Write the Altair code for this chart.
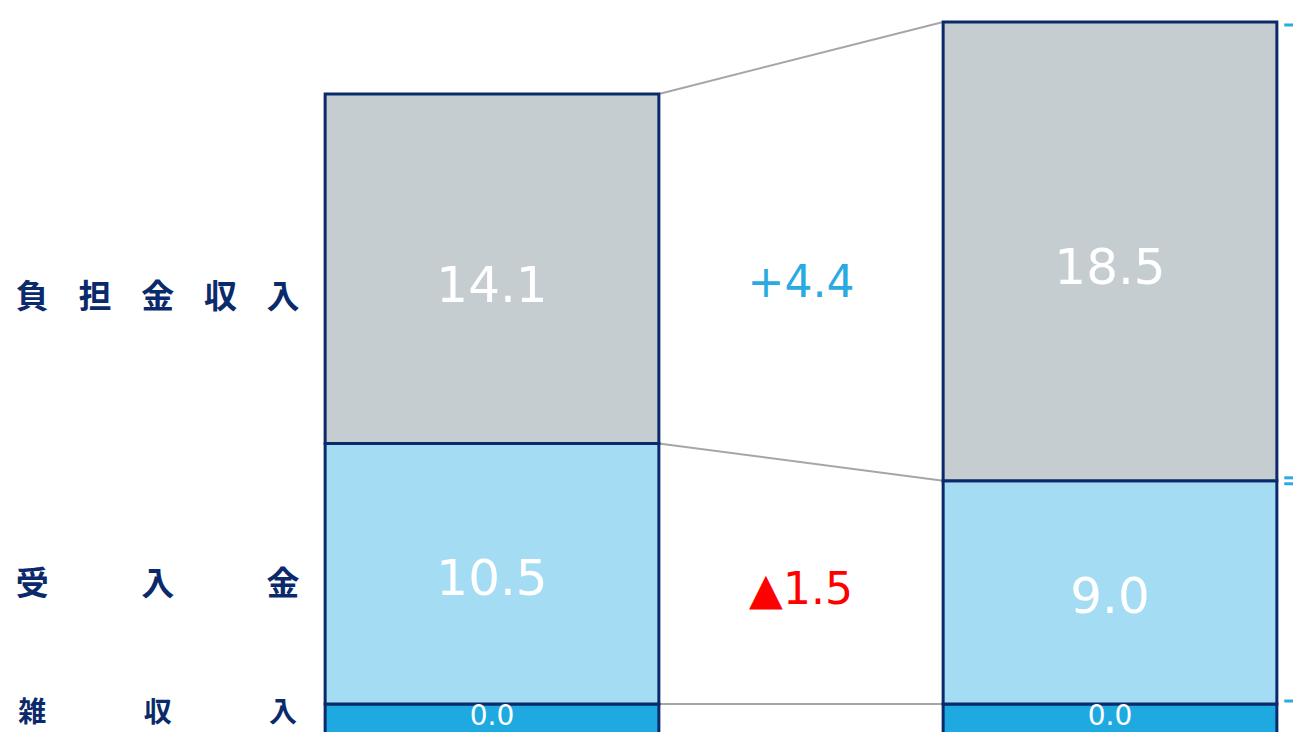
import altair as alt
import pandas as pd

# ---- data ----
categories = ["雑収入", "受入金", "負担金収入"]          # bottom -> top
periods = ["前年度", "本年度"]
prev_values = [0.0, 10.5, 14.1]
curr_values = [0.0, 9.0, 18.5]
row_labels = ["雑収入", "受入金", "負担金収入"]

# ---- style constants ----
fills = ["#1EAAE1", "#A4DDF3", "#C5CDD1"]
navy = "#0B2A6B"
misc_floor = 1.37          # visual height given to the (0.0) bottom segment
bar_w = 0.54               # bar width in period units
FONT_NUM = "DejaVu Sans"
FONT_JP = "Noto Sans CJK JP"

series = [prev_values, curr_values]
rows, bounds = [], []
for pi, (pname, vals) in enumerate(zip(periods, series)):
    base = -misc_floor
    b = [base]
    for ci, (cat, v) in enumerate(zip(categories, vals)):
        h = max(v, misc_floor) if ci == 0 else v
        rows.append(dict(period=pname, pidx=pi, cat=cat, ci=ci, value=v,
                         y0=base, y1=base + h, mid=base + h / 2,
                         x0=pi - bar_w / 2, x1=pi + bar_w / 2,
                         label=f"{v:.1f}"))
        base += h
        b.append(base)
    bounds.append(b)
bars = pd.DataFrame(rows)

conn = pd.DataFrame(dict(xa=[bar_w / 2] * 4, xb=[1 - bar_w / 2] * 4,
                         ya=bounds[0], yb=bounds[1]))

# change labels
chg_rows = []
for ci, cat in enumerate(categories):
    d = round(curr_values[ci] - prev_values[ci], 1)
    if d == 0:
        continue
    m0 = bars[(bars.pidx == 0) & (bars.cat == cat)].mid.iloc[0]
    m1 = bars[(bars.pidx == 1) & (bars.cat == cat)].mid.iloc[0]
    chg_rows.append(dict(cat=cat, ci=ci, diff=d, x=0.5, y=(m0 + m1) / 2,
                         text=("+" if d > 0 else "▲") + f"{abs(d):.1f}",
                         sign="pos" if d > 0 else "neg"))
chg = pd.DataFrame(chg_rows)

# row labels, one char per mark, spread evenly
lab_rows = []
lx0, lx1 = -0.744, -0.338
for ci, (cat, lab) in enumerate(zip(categories, row_labels)):
    m0 = bars[(bars.pidx == 0) & (bars.cat == cat)].mid.iloc[0]
    m1 = bars[(bars.pidx == 1) & (bars.cat == cat)].mid.iloc[0]
    n = len(lab)
    for k, ch in enumerate(lab):
        lab_rows.append(dict(cat=cat, ci=ci, ch=ch, x=lx0 + (lx1 - lx0) * k / (n - 1),
                             y=(m0 + m1) / 2))
labs = pd.DataFrame(lab_rows)

# brackets on the right of the current bar (visible stubs)
br_rows = []
inset = 0.12
for ci in [1, 2]:
    r = bars[(bars.pidx == 1) & (bars.cat == categories[ci])].iloc[0]
    for yy in [r.y0 + inset, r.y1 - inset]:
        br_rows.append(dict(xa=1 + bar_w / 2 + 0.012, xb=1.30, y=yy))
br = pd.DataFrame(br_rows)

W, H = 1285, 724
k = 24.8
xs = alt.Scale(domain=[-484 / 618, (W - 484) / 618], nice=False, zero=False)
ys = alt.Scale(domain=[-(H - 696) / k, 696 / k], nice=False, zero=False)

X = lambda f: alt.X(f, type="quantitative", scale=xs, axis=None)
Y = lambda f: alt.Y(f, type="quantitative", scale=ys, axis=None)

connectors = alt.Chart(conn).mark_rule(color="#A6A6A6", strokeWidth=2).encode(
    x=X("xa"), x2="xb", y=Y("ya"), y2="yb")

rects = alt.Chart(bars).mark_rect(stroke=navy, strokeWidth=3).encode(
    x=X("x0"), x2="x1", y=Y("y0"), y2="y1",
    fill=alt.Fill("cat:N", scale=alt.Scale(domain=categories, range=fills), legend=None))

def val_layer(ci, size, dy):
    return alt.Chart(bars).transform_filter(f"datum.ci == {ci}").mark_text(
        color="white", font=FONT_NUM, fontSize=size, baseline="middle", dy=dy).encode(
        x=X("pidx"), y=Y("mid"), text="label:N")

vals_txt = [val_layer(0, 28, -4), val_layer(1, 50, 6), val_layer(2, 50, 18)]

def chg_layer(ci, dy):
    return alt.Chart(chg).transform_filter(f"datum.ci == {ci}").mark_text(
        font=FONT_NUM, fontSize=44, baseline="middle", dy=dy).encode(
        x=X("x"), y=Y("y"), text="text:N",
        color=alt.Color("sign:N", scale=alt.Scale(domain=["pos", "neg"],
                                                  range=["#29ABE2", "#FF0000"]), legend=None))

chg_txt = [chg_layer(1, 8), chg_layer(2, 24)]

def lab_layer(ci, size, dy):
    return alt.Chart(labs).transform_filter(f"datum.ci == {ci}").mark_text(
        font=FONT_JP, fontSize=size, fontWeight="bold", color=navy,
        baseline="middle", dy=dy).encode(x=X("x"), y=Y("y"), text="ch:N")

lab_txt = [lab_layer(0, 28, -7), lab_layer(1, 33, 2), lab_layer(2, 33, 38)]

brackets = alt.Chart(br).mark_rule(color="#29ABE2", strokeWidth=3).encode(
    x=X("xa"), x2="xb", y=Y("y"))

chart = alt.layer(connectors, rects, *vals_txt, *chg_txt, *lab_txt, brackets).properties(
    width=W, height=H, padding=0, autosize=alt.AutoSizeParams(type="none")
).configure_view(stroke=None)

chart.save("out.html", embed_options={"renderer": "svg", "actions": False})
